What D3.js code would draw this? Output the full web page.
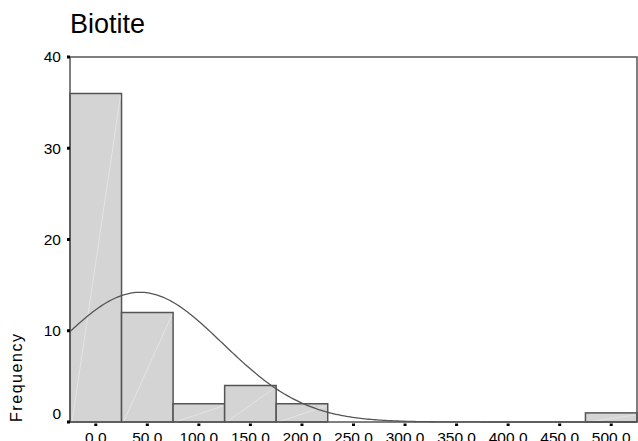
<!DOCTYPE html>
<html>
<head>
<meta charset="utf-8">
<script src="https://cdn.jsdelivr.net/npm/d3@7"></script>
<style>
  body { margin: 0; background: #fff; }
  text { font-family: "Liberation Sans", Arial, sans-serif; }
</style>
</head>
<body>
<div id="chart"></div>
<script>
// bin centres and counts
const binCenters = [0, 50, 100, 150, 200, 250, 300, 350, 400, 450, 500];
const counts = [36, 12, 2, 4, 2, 0, 0, 0, 0, 0, 1];
const yTicks = [0, 10, 20, 30, 40];
const binWidth = 50;
// normal curve parameters
const curveMean = 43;
const curveSd = 80;
const total = 57;

const WIDTH = 638;
const HEIGHT = 441;
const MARGIN_LEFT = 70;
const MARGIN_TOP = 57;
const PLOT_RIGHT = 637;
const PLOT_BOTTOM = 422;

const svg = d3.select('#chart')
  .append('svg')
  .attr('width', WIDTH)
  .attr('height', HEIGHT);

const x = d3.scaleLinear().domain([-25, 525]).range([MARGIN_LEFT, PLOT_RIGHT]);
const y = d3.scaleLinear().domain([0, 40]).range([PLOT_BOTTOM, MARGIN_TOP]);

svg.append('text')
  .attr('x', 70)
  .attr('y', 33)
  .attr('font-size', 27)
  .attr('fill', '#000')
  .text('Biotite');

// bars
const bars = svg.append('g');
binCenters.forEach((c, i) => {
  if (!counts[i]) return;
  const x0 = x(c - binWidth / 2), x1 = x(c + binWidth / 2);
  bars.append('rect')
    .attr('x', x0)
    .attr('y', y(counts[i]))
    .attr('width', x1 - x0)
    .attr('height', y(0) - y(counts[i]))
    .attr('fill', '#d4d4d4')
    .attr('stroke', '#555')
    .attr('stroke-width', 1.5);
  bars.append('line')
    .attr('x1', x0 + 2).attr('y1', y(0))
    .attr('x2', x1 - 1).attr('y2', y(counts[i]) + 2)
    .attr('stroke', '#fff')
    .attr('stroke-opacity', 0.45)
    .attr('stroke-width', 0.8);
});

// normal curve
const pts = d3.range(-25, 525.5, 2).map(v => {
  const z = (v - curveMean) / curveSd;
  return [v, total * binWidth / (curveSd * Math.sqrt(2 * Math.PI)) * Math.exp(-0.5 * z * z)];
});
svg.append('path')
  .datum(pts)
  .attr('fill', 'none')
  .attr('stroke', '#555')
  .attr('stroke-width', 1.3)
  .attr('d', d3.line().x(d => x(d[0])).y(d => y(d[1])));

// frame
svg.append('rect')
  .attr('x', MARGIN_LEFT)
  .attr('y', MARGIN_TOP)
  .attr('width', PLOT_RIGHT - MARGIN_LEFT)
  .attr('height', PLOT_BOTTOM - MARGIN_TOP)
  .attr('fill', 'none')
  .attr('stroke', '#555')
  .attr('stroke-width', 1.5);

// y axis
const yAxis = svg.append('g');
yTicks.forEach(t => {
  yAxis.append('rect')
    .attr('x', MARGIN_LEFT - 3).attr('y', y(t) - 1.5)
    .attr('width', 3).attr('height', 3)
    .attr('fill', '#000');
  yAxis.append('text')
    .attr('x', 61)
    .attr('y', y(t) - (t === 0 ? 8 : 0))
    .attr('dy', '0.35em')
    .attr('text-anchor', 'end')
    .attr('font-size', 15.5)
    .text(t);
});

// x axis
const xAxis = svg.append('g');
binCenters.forEach(c => {
  xAxis.append('rect')
    .attr('x', x(c) - 1.5).attr('y', PLOT_BOTTOM + 1.5)
    .attr('width', 3).attr('height', 2.5)
    .attr('fill', '#000');
  xAxis.append('text')
    .attr('x', x(c))
    .attr('y', 443)
    .attr('text-anchor', 'middle')
    .attr('font-size', 15.5)
    .text(d3.format('.1f')(c));
});

svg.append('text')
  .attr('transform', 'translate(21.5,378) rotate(-90)')
  .attr('text-anchor', 'middle')
  .attr('font-size', 16)
  .attr('textLength', 88)
  .attr('lengthAdjust', 'spacing')
  .text('Frequency');
</script>
</body>
</html>
